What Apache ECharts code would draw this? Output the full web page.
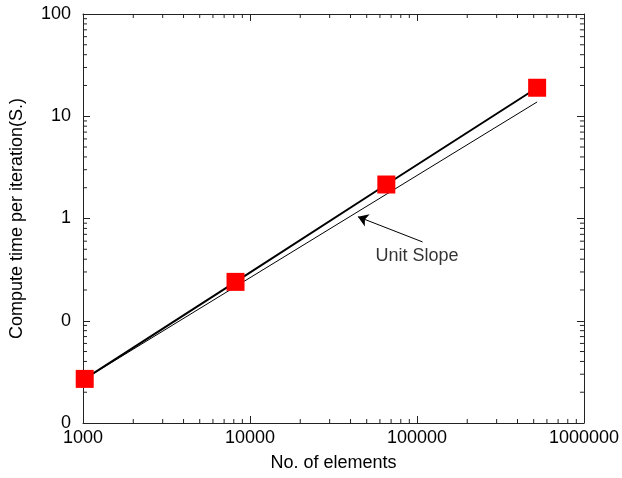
<!DOCTYPE html>
<html>
<head>
<meta charset="utf-8">
<script src="https://cdn.jsdelivr.net/npm/echarts@6/dist/echarts.min.js"></script>
<style>html,body{margin:0;padding:0;background:#fff;}#c{width:622px;height:478px;}</style>
</head>
<body>
<div id="c"></div>
<script>
const elements = [1024, 8192, 65536, 524288];
const computeTime = [0.027, 0.24, 2.15, 19.0];
const unitSlopeX = [1024, 524288];
const unitSlopeY = [0.027, 13.8];
const arrowFrom = [108000, 0.59];
const arrowTo = [44300, 1.04];
const labelPos = [100000, 0.43];
const labelText = 'Unit Slope';
const xRange = [1000, 1000000];
const yRange = [0.01, 100];
const xMinorTicks = [2000,3000,4000,5000,6000,7000,8000,9000,20000,30000,40000,50000,60000,70000,80000,90000,200000,300000,400000,500000,600000,700000,800000,900000];
const yMinorTicks = [0.02,0.03,0.04,0.05,0.06,0.07,0.08,0.09,0.2,0.3,0.4,0.5,0.6,0.7,0.8,0.9,2,3,4,5,6,7,8,9,20,30,40,50,60,70,80,90];
const xTitle = 'No. of elements';
const yTitle = 'Compute time per iteration(S.)';

const FONT = 'Liberation Sans, Arial, Helvetica, sans-serif';
const FS = 18;
const TXT = '#000';
const AX = '#222';
const chart = echarts.init(document.getElementById('c'), null, {renderer: 'canvas'});

function axisBase(pos) {
  return {
    axisLine: {show: true, lineStyle: {color: AX, width: 1}},
    axisTick: {show: true, inside: true, length: 7, lineStyle: {color: AX}},
    splitLine: {show: false},
    minorTick: {show: false},
    position: pos
  };
}

chart.setOption({
  animation: false,
  backgroundColor: '#fff',
  grid: {left: 83, right: 38, top: 14, bottom: 55, containLabel: false},
  xAxis: [
    Object.assign(axisBase('bottom'), {
      type: 'log', logBase: 10, min: xRange[0], max: xRange[1],
      name: xTitle, nameLocation: 'middle', nameGap: 31,
      nameTextStyle: {fontFamily: FONT, fontSize: FS, color: TXT},
      axisLabel: {fontFamily: FONT, fontSize: FS, color: TXT, margin: 6, showMaxLabel: true, showMinLabel: true,
        formatter: v => String(Math.round(v))}
    }),
    Object.assign(axisBase('top'), {
      type: 'log', logBase: 10, min: xRange[0], max: xRange[1],
      axisLabel: {show: false}
    })
  ],
  yAxis: [
    Object.assign(axisBase('left'), {
      type: 'log', logBase: 10, min: yRange[0], max: yRange[1],
      name: yTitle, nameLocation: 'middle', nameGap: 57, nameRotate: 90,
      nameTextStyle: {fontFamily: FONT, fontSize: FS, color: TXT},
      axisLabel: {fontFamily: FONT, fontSize: FS, color: TXT, margin: 12,
        formatter: v => (v >= 1 ? String(Math.round(v)) : '0')}
    }),
    Object.assign(axisBase('right'), {
      type: 'log', logBase: 10, min: yRange[0], max: yRange[1],
      axisLabel: {show: false}
    })
  ],
  series: [
    {
      type: 'custom', xAxisIndex: 0, yAxisIndex: 0, silent: true, clip: false,
      data: xMinorTicks.map(v => [v, yRange[0]]),
      renderItem: function (params, api) {
        const v = api.value(0);
        const b = api.coord([v, yRange[0]]);
        const t = api.coord([v, yRange[1]]);
        return {type: 'group', children: [
          {type: 'line', shape: {x1: b[0], y1: b[1], x2: b[0], y2: b[1] - 4}, style: {stroke: AX, lineWidth: 1}},
          {type: 'line', shape: {x1: t[0], y1: t[1], x2: t[0], y2: t[1] + 4}, style: {stroke: AX, lineWidth: 1}}
        ]};
      }
    },
    {
      type: 'custom', xAxisIndex: 0, yAxisIndex: 0, silent: true, clip: false,
      data: yMinorTicks.map(v => [xRange[0], v]),
      renderItem: function (params, api) {
        const v = api.value(1);
        const l = api.coord([xRange[0], v]);
        const r = api.coord([xRange[1], v]);
        return {type: 'group', children: [
          {type: 'line', shape: {x1: l[0], y1: l[1], x2: l[0] + 4, y2: l[1]}, style: {stroke: AX, lineWidth: 1}},
          {type: 'line', shape: {x1: r[0], y1: r[1], x2: r[0] - 4, y2: r[1]}, style: {stroke: AX, lineWidth: 1}}
        ]};
      }
    },
    {
      name: 'Unit Slope', type: 'line', silent: true,
      data: unitSlopeX.map((x, i) => [x, unitSlopeY[i]]),
      symbol: 'none', lineStyle: {color: '#000', width: 1},
      markLine: {
        silent: true, symbol: ['none', 'arrow'], symbolSize: 10,
        lineStyle: {color: '#000', width: 1, type: 'solid'},
        itemStyle: {color: '#000'},
        label: {show: false},
        data: [[{coord: arrowFrom}, {coord: arrowTo}]]
      }
    },
    {
      name: 'Measured', type: 'line', silent: true,
      data: elements.map((x, i) => [x, computeTime[i]]),
      symbol: 'rect', symbolSize: 18,
      itemStyle: {color: '#ff0000'},
      lineStyle: {color: '#000', width: 2},
      z: 5
    },
    {
      type: 'scatter', silent: true,
      data: [labelPos], symbolSize: 0,
      itemStyle: {color: '#000'},
      label: {show: true, position: 'inside', formatter: labelText,
        fontFamily: FONT, fontSize: FS, color: TXT, textBorderWidth: 0}
    }
  ]
});
</script>
</body>
</html>
